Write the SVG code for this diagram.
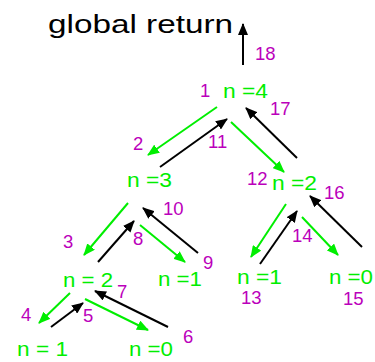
<svg xmlns="http://www.w3.org/2000/svg" width="375" height="362" viewBox="0 0 375 362">
<style>
.node{font-family:"Liberation Sans",Arial,sans-serif;font-size:20px;fill:#00ee00}
.title{font-family:"Liberation Sans",Arial,sans-serif;font-size:25px;fill:#000}
.num{font-family:"Liberation Sans",Arial,sans-serif;font-size:18.5px;fill:#bb00bb}
.g{stroke:#00ee00;stroke-width:2;fill:none;marker-end:url(#ag)}
.b{stroke:#000;stroke-width:2;fill:none;marker-end:url(#ab)}
</style>
<defs>
<marker id="ag" viewBox="0 0 12 10" refX="11" refY="5" markerWidth="12" markerHeight="10" markerUnits="userSpaceOnUse" orient="auto"><path d="M0,0 L12,5 L0,10 z" fill="#00ee00"/></marker>
<marker id="ab" viewBox="0 0 12 10" refX="11" refY="5" markerWidth="12" markerHeight="10" markerUnits="userSpaceOnUse" orient="auto"><path d="M0,0 L12,5 L0,10 z" fill="#000"/></marker>
</defs>
<rect width="375" height="362" fill="#fff"/>
<g id="title"><text class="title" x="48" y="33" textLength="185" lengthAdjust="spacingAndGlyphs">global return</text></g>
<g id="n4"><text class="node" x="223" y="98" textLength="45" lengthAdjust="spacingAndGlyphs">n =4</text></g>
<g id="n3"><text class="node" x="127" y="187" textLength="45" lengthAdjust="spacingAndGlyphs">n =3</text></g>
<g id="n2r"><text class="node" x="272" y="190" textLength="45" lengthAdjust="spacingAndGlyphs">n =2</text></g>
<g id="n2l"><text class="node" x="63" y="287" textLength="50" lengthAdjust="spacingAndGlyphs">n = 2</text></g>
<g id="n1m"><text class="node" x="158" y="286" textLength="44" lengthAdjust="spacingAndGlyphs">n =1</text></g>
<g id="n1r"><text class="node" x="237" y="284" textLength="45" lengthAdjust="spacingAndGlyphs">n =1</text></g>
<g id="n0r"><text class="node" x="329" y="284" textLength="44" lengthAdjust="spacingAndGlyphs">n =0</text></g>
<g id="n1l"><text class="node" x="17" y="356" textLength="51" lengthAdjust="spacingAndGlyphs">n = 1</text></g>
<g id="n0l"><text class="node" x="129" y="356" textLength="44" lengthAdjust="spacingAndGlyphs">n =0</text></g>
<g id="connectors">
<line class="b" x1="243" y1="65" x2="243" y2="24"/>
<line class="g" x1="217" y1="107" x2="148" y2="155"/>
<line class="b" x1="160" y1="167" x2="227" y2="119"/>
<line class="g" x1="231" y1="122" x2="284" y2="172"/>
<line class="b" x1="297" y1="158" x2="246" y2="108"/>
<line class="g" x1="286" y1="204" x2="251" y2="257"/>
<line class="b" x1="260" y1="264" x2="297" y2="211"/>
<line class="g" x1="302" y1="217" x2="338" y2="255"/>
<line class="b" x1="362" y1="247" x2="310" y2="196"/>
<line class="g" x1="128" y1="203" x2="84" y2="255"/>
<line class="b" x1="98" y1="262" x2="134" y2="221"/>
<line class="g" x1="140" y1="225" x2="185" y2="262"/>
<line class="b" x1="198" y1="253" x2="143" y2="208"/>
<line class="g" x1="70" y1="293" x2="39" y2="323"/>
<line class="b" x1="51" y1="327" x2="83" y2="303"/>
<line class="g" x1="85" y1="299" x2="148" y2="330"/>
<line class="b" x1="168" y1="327" x2="95" y2="291"/>
</g>
<g id="steps">
<text class="num" x="255" y="60">18</text>
<text class="num" x="200" y="97">1</text>
<text class="num" x="270" y="115">17</text>
<text class="num" x="133" y="150">2</text>
<text class="num" x="208" y="148">11</text>
<text class="num" x="247" y="185">12</text>
<text class="num" x="324" y="199">16</text>
<text class="num" x="163" y="215">10</text>
<text class="num" x="63" y="248">3</text>
<text class="num" x="133" y="245">8</text>
<text class="num" x="203" y="269">9</text>
<text class="num" x="292" y="242">14</text>
<text class="num" x="241" y="304">13</text>
<text class="num" x="343" y="305">15</text>
<text class="num" x="117" y="298">7</text>
<text class="num" x="21" y="321">4</text>
<text class="num" x="83" y="322">5</text>
<text class="num" x="183" y="343">6</text>
</g>
</svg>
